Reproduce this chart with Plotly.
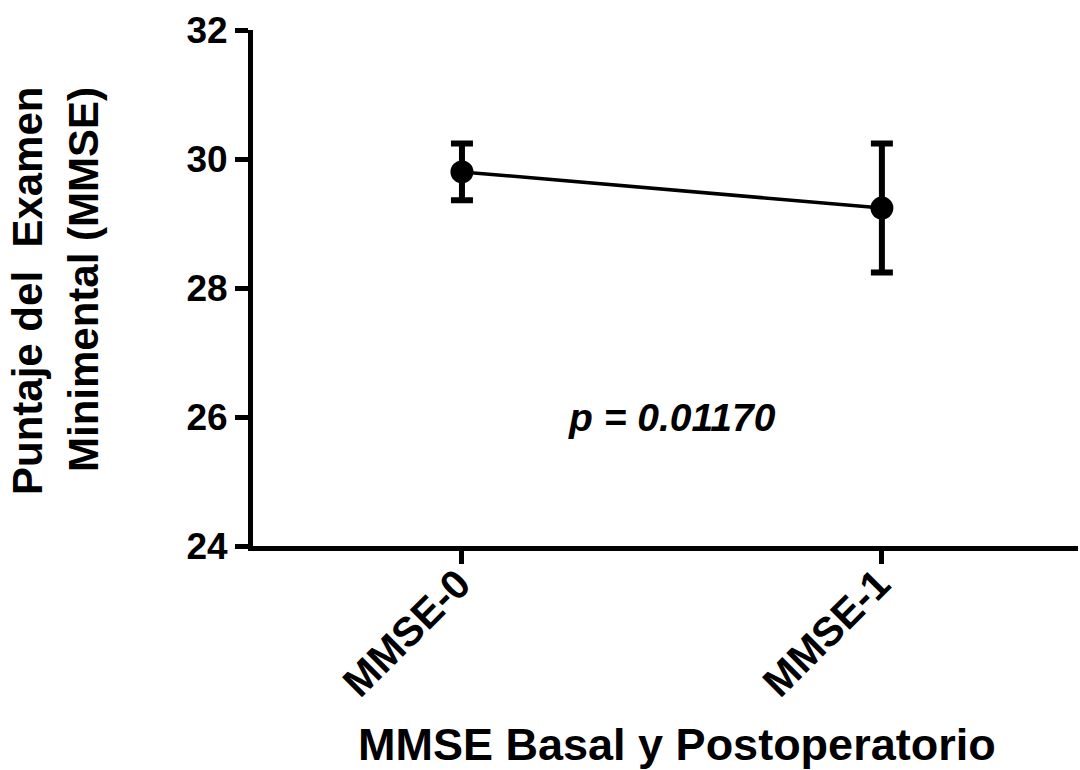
import plotly.graph_objects as go

categories = ["MMSE-0", "MMSE-1"]
cat_pos = [0, 1]
means = [29.80, 29.24]
errors = [0.44, 1.00]
y_ticks = [24, 26, 28, 30, 32]
p_text = "p = 0.01170"

FONT = "Liberation Sans, Arial, sans-serif"
L, R, T, B = 253, 2, 30, 224
W, H = 1080, 770

fig = go.Figure()
fig.add_trace(go.Scatter(
    x=cat_pos, y=means,
    mode="lines+markers",
    line=dict(color="black", width=3.5),
    marker=dict(color="black", size=23),
    error_y=dict(type="data", array=errors, visible=True,
                 color="black", thickness=6, width=11),
    showlegend=False,
))


def py_paper(py):
    return (H - py - B) / (H - T - B)


def px_ann(px, py, text, size, angle=0, style="normal"):
    return dict(
        xref="paper", yref="paper",
        x=(px - L) / (W - L - R), y=py_paper(py),
        xanchor="center", yanchor="middle",
        text=text, textangle=angle, showarrow=False,
        font=dict(family=FONT, size=size, weight="bold", style=style, color="black"),
    )


# rotated category labels, anchored to the category positions on the x axis
tick_anns = [
    dict(xref="x", yref="paper", x=c, y=py_paper(576), xshift=20, yshift=18,
         xanchor="right", yanchor="top", text=lab, textangle=-45, showarrow=False,
         font=dict(family=FONT, size=41, weight="bold", color="black"))
    for c, lab in zip(cat_pos, categories)
]

fig.update_layout(
    width=W, height=H,
    margin=dict(l=L, r=R, t=T, b=B),
    paper_bgcolor="white", plot_bgcolor="white",
    font=dict(family=FONT, color="black"),
    xaxis=dict(
        range=[-0.4976, 1.467],
        tickvals=cat_pos, ticktext=categories,
        showticklabels=False,
        showline=True, linecolor="black", linewidth=5,
        ticks="outside", ticklen=13, tickwidth=5, tickcolor="black",
        showgrid=False, zeroline=False,
    ),
    yaxis=dict(
        range=[24, 32],
        tickvals=y_ticks,
        tickfont=dict(family=FONT, size=37, weight="bold", color="black"),
        showline=True, linecolor="black", linewidth=5,
        ticks="outside", ticklen=13, tickwidth=5, tickcolor="black",
        showgrid=False, zeroline=False,
    ),
    annotations=[
        dict(x=0.5, y=26, xref="x", yref="y", text=p_text, showarrow=False,
             font=dict(family=FONT, size=39, weight="bold", style="italic", color="black")),
        px_ann(677, 744, "MMSE Basal y Postoperatorio", 45),
        px_ann(27, 291, "Puntaje del\u00a0\u00a0Examen", 42, angle=-90),
        px_ann(83, 280, "Minimental (MMSE)", 42, angle=-90),
    ] + tick_anns,
)

fig.write_html("out.html", config={"displayModeBar": False},
               post_script="document.body.style.margin='0';")
